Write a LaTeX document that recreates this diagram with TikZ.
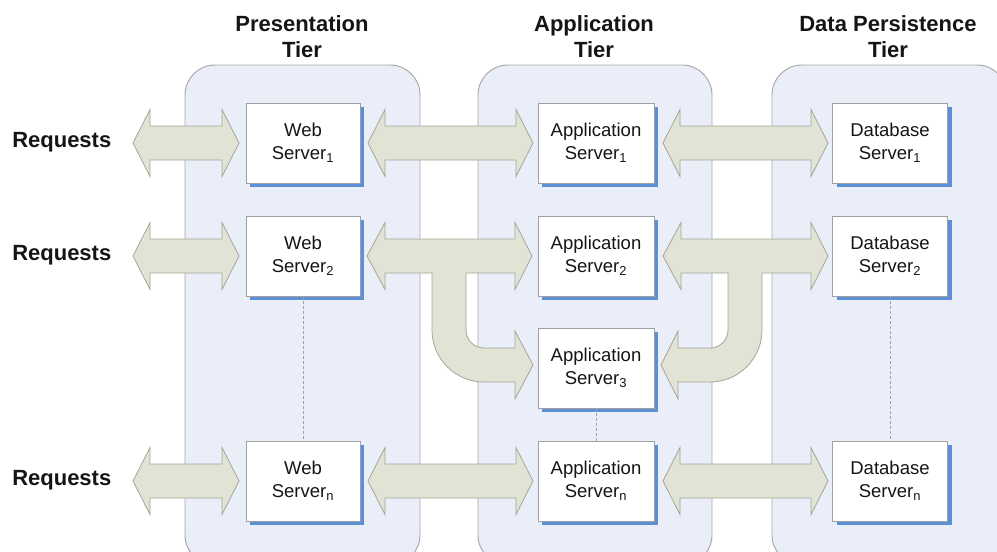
\documentclass[tikz,border=0pt]{standalone}
\usepackage{fontspec}
\setmainfont{Liberation Sans}
\usetikzlibrary{shadows}

\definecolor{panelfill}{HTML}{E9EEF8}
\definecolor{panelline}{HTML}{A6A6A6}
\definecolor{flowfill}{HTML}{E1E3D5}
\definecolor{flowline}{HTML}{A4A698}
\definecolor{shadowblue}{HTML}{5B8FD6}
\definecolor{boxline}{HTML}{A0A0A0}
\definecolor{ink}{HTML}{151515}

% horizontal double-headed block arrow: x-left, x-right, y-centre
\newcommand\dualflow[3]{%
  \draw[flow] (#1,#3) -- ({#1+17},{#3-33.5}) -- ({#1+17},{#3-17})
    -- ({#2-17},{#3-17}) -- ({#2-17},{#3-33.5}) -- (#2,#3)
    -- ({#2-17},{#3+33.5}) -- ({#2-17},{#3+17}) -- ({#1+17},{#3+17})
    -- ({#1+17},{#3+33.5}) -- cycle;}

\begin{document}
\begin{tikzpicture}[x=0.75pt,y=-0.75pt,
  tierpanel/.style={fill=panelfill,draw=panelline,line width=0.7pt,rounded corners=22.5pt},
  flow/.style={fill=flowfill,draw=flowline,line width=0.6pt,line join=miter},
  server/.style={draw=boxline,fill=white,line width=0.6pt,minimum height=60pt,
    align=center,text=ink,inner sep=0pt,
    font=\fontsize{13.9}{17.25}\selectfont,
    general shadow={fill=shadowblue,shadow xshift=3pt,shadow yshift=-3pt}},
  tiertitle/.style={align=center,text=ink,font=\bfseries\fontsize{16.5}{19.5}\selectfont,inner sep=0pt},
  reqlabel/.style={anchor=base west,text=ink,font=\bfseries\fontsize{16.5}{19.5}\selectfont,inner sep=0pt},
  linkdash/.style={draw=boxline,line width=0.5pt,dash pattern=on 2.25pt off 1.5pt}]

\useasboundingbox (0,0) rectangle (997,551);
\clip (0,0) rectangle (997,551);

% tier panels
\draw[tierpanel] (185,65) rectangle (420,565);
\draw[tierpanel] (478,65) rectangle (712,565);
\draw[tierpanel] (772,65) rectangle (1007,565);

% tier titles
\node[tiertitle] (ptitle) at (302,37) {Presentation\\Tier};
\node[tiertitle] (atitle) at (594,37) {Application\\Tier};
\node[tiertitle] (dtitle) at (888,37) {Data Persistence\\Tier};

% servers
\node[server,minimum width=85.5pt] (ws1) at (303,143) {Web\\Server\textsubscript{1}};
\node[server,minimum width=85.5pt] (ws2) at (303,256) {Web\\Server\textsubscript{2}};
\node[server,minimum width=85.5pt] (wsn) at (303,481) {Web\\Server\textsubscript{n}};

\node[server,minimum width=87pt] (as1) at (596,143) {Application\\Server\textsubscript{1}};
\node[server,minimum width=87pt] (as2) at (596,256) {Application\\Server\textsubscript{2}};
\node[server,minimum width=87pt] (as3) at (596,368) {Application\\Server\textsubscript{3}};
\node[server,minimum width=87pt] (asn) at (596,481) {Application\\Server\textsubscript{n}};

\node[server,minimum width=86.25pt] (ds1) at (890,143) {Database\\Server\textsubscript{1}};
\node[server,minimum width=86.25pt] (ds2) at (890,256) {Database\\Server\textsubscript{2}};
\node[server,minimum width=86.25pt] (dsn) at (890,481) {Database\\Server\textsubscript{n}};

% elided servers
\draw[linkdash] (ws2.south) -- (wsn.north);
\draw[linkdash] (as3.south) -- (asn.north);
\draw[linkdash] (ds2.south) -- (dsn.north);

% request labels
\node[reqlabel] (rq1) at (12,147) {Requests};
\node[reqlabel] (rq2) at (12,260) {Requests};
\node[reqlabel] (rqn) at (12,485) {Requests};

% client <-> web tier
\dualflow{133}{239}{143}
\dualflow{133}{239}{256}
\dualflow{133}{239}{481}

% web tier <-> application tier
\dualflow{368}{533}{143}
\dualflow{368}{533}{481}
\draw[flow] (367,256) -- (385,222.5) -- (385,239) -- (515,239) -- (515,222.5)
  -- (532,256) -- (515,289.5) -- (515,273) -- (466,273) -- (466,330)
  .. controls (466,339.9) and (474.1,348) .. (484,348)
  -- (515,348) -- (515,331) -- (533,365) -- (515,399) -- (515,382) -- (484,382)
  .. controls (455.3,382) and (432,358.7) .. (432,330)
  -- (432,273) -- (385,273) -- (385,289.5) -- cycle;

% application tier <-> data tier
\dualflow{663}{828}{143}
\dualflow{663}{828}{481}
\draw[flow] (663,256) -- (681,222.5) -- (681,239) -- (811,239) -- (811,222.5)
  -- (828,256) -- (811,289.5) -- (811,273) -- (762,273) -- (762,330)
  .. controls (762,358.7) and (738.7,382) .. (710,382)
  -- (678,382) -- (678,399) -- (661,365) -- (678,331) -- (678,348) -- (710,348)
  .. controls (719.9,348) and (728,339.9) .. (728,330)
  -- (728,273) -- (681,273) -- (681,289.5) -- cycle;

\end{tikzpicture}
\end{document}
